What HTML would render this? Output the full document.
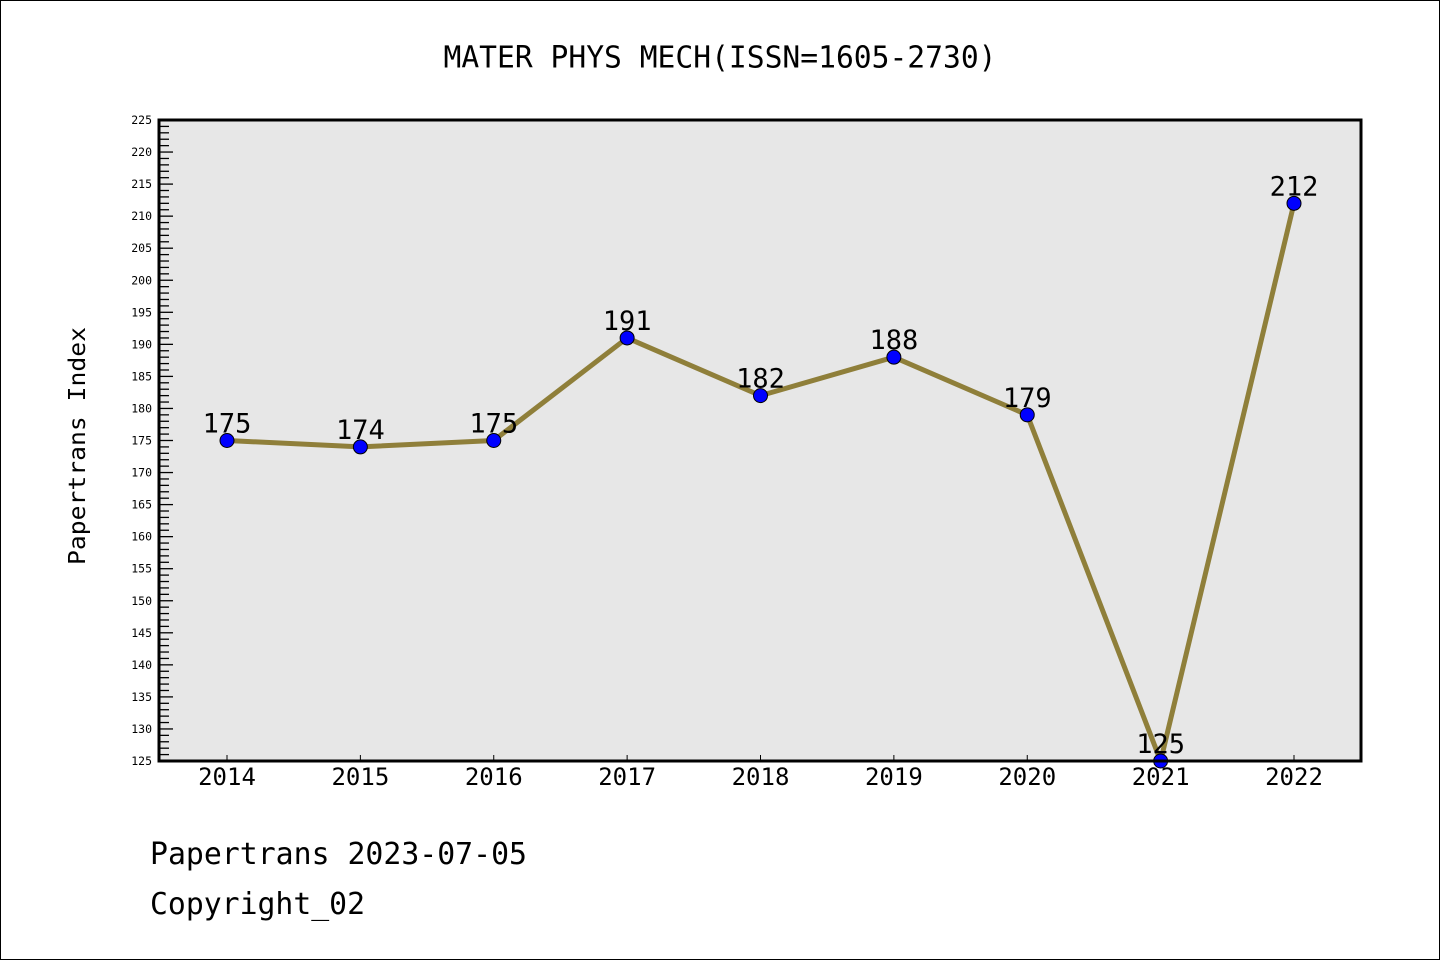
<!DOCTYPE html>
<html><head><meta charset="utf-8"><style>
body{margin:0;background:#fff}
svg{display:block}
text{font-family:"DejaVu Sans Mono","Liberation Mono",monospace}
</style></head><body>
<svg id="c" width="1440" height="960">
<rect x="0.5" y="0.5" width="1439" height="959" fill="#fff" stroke="#000"/>
<text x="720" y="67" text-anchor="middle" font-size="28" textLength="553" lengthAdjust="spacingAndGlyphs" transform="translate(0,-5) scale(1,1.08)">MATER PHYS MECH(ISSN=1605-2730)</text>
<text transform="translate(85,446) rotate(-90)" text-anchor="middle" font-size="23" textLength="238" lengthAdjust="spacingAndGlyphs">Papertrans Index</text>
<text x="150" y="864" font-size="30" textLength="377" lengthAdjust="spacingAndGlyphs">Papertrans 2023-07-05</text>
<text x="150" y="914" font-size="30" textLength="215" lengthAdjust="spacingAndGlyphs">Copyright_02</text>
<g id="plot"></g>
</svg>
<script>
const years=['2014','2015','2016','2017','2018','2019','2020','2021','2022'];
const values=[175,174,175,191,182,188,179,125,212];
const yMin=125,yMax=225;
const L=159,R=1361,T=120,B=761;
const NS='http://www.w3.org/2000/svg';
const g=document.getElementById('plot');
function el(t,a){const e=document.createElementNS(NS,t);for(const k in a)e.setAttribute(k,a[k]);g.appendChild(e);return e;}
function ys(v){return B-(v-yMin)/(yMax-yMin)*(B-T);}
function xs(i){return 227+i*(1294-227)/(years.length-1);}
let bg=el('rect',{x:L,y:T,width:R-L,height:B-T,fill:'#e7e7e7'});


for(let v=yMin;v<=yMax;v++){
  const y=ys(v),major=v%5===0;
  let t=el('line',{x1:L,x2:L+(major?14:10),y1:y,y2:y,stroke:'#000','stroke-width':1.3});
  
  
  if(major){
    let lb=el('text',{x:152,y:y+4,'text-anchor':'end','font-size':11.5,'font-family':'DejaVu Sans,sans-serif'});
    lb.textContent=v;
    
    
  }
}
years.forEach((yr,i)=>{
  const x=xs(i);
  let t=el('line',{x1:x,x2:x,y1:B,y2:B-6,stroke:'#000','stroke-width':1});
  
  
  let lb=el('text',{x:x,y:785,'text-anchor':'middle','font-size':24,'font-family':'DejaVu Sans,sans-serif'});
  lb.textContent=yr;
  
  
});
let pts=values.map((v,i)=>xs(i)+','+ys(v)).join(' ');
let ln=el('polyline',{points:pts,fill:'none',stroke:'#8f7f3a','stroke-width':5,'stroke-linejoin':'round'});


values.forEach((v,i)=>{
  let c=el('circle',{cx:xs(i),cy:ys(v),r:7,fill:'#0000ff',stroke:'#000','stroke-width':1});
  
  
  let lb=el('text',{x:xs(i),y:ys(v)-8,'text-anchor':'middle','font-size':27,'font-family':'DejaVu Sans,sans-serif'});
  lb.textContent=v;
  
  
});
let ax=el('rect',{x:L,y:T,width:R-L,height:B-T,fill:'none',stroke:'#000','stroke-width':3});


</script>
</body></html>
